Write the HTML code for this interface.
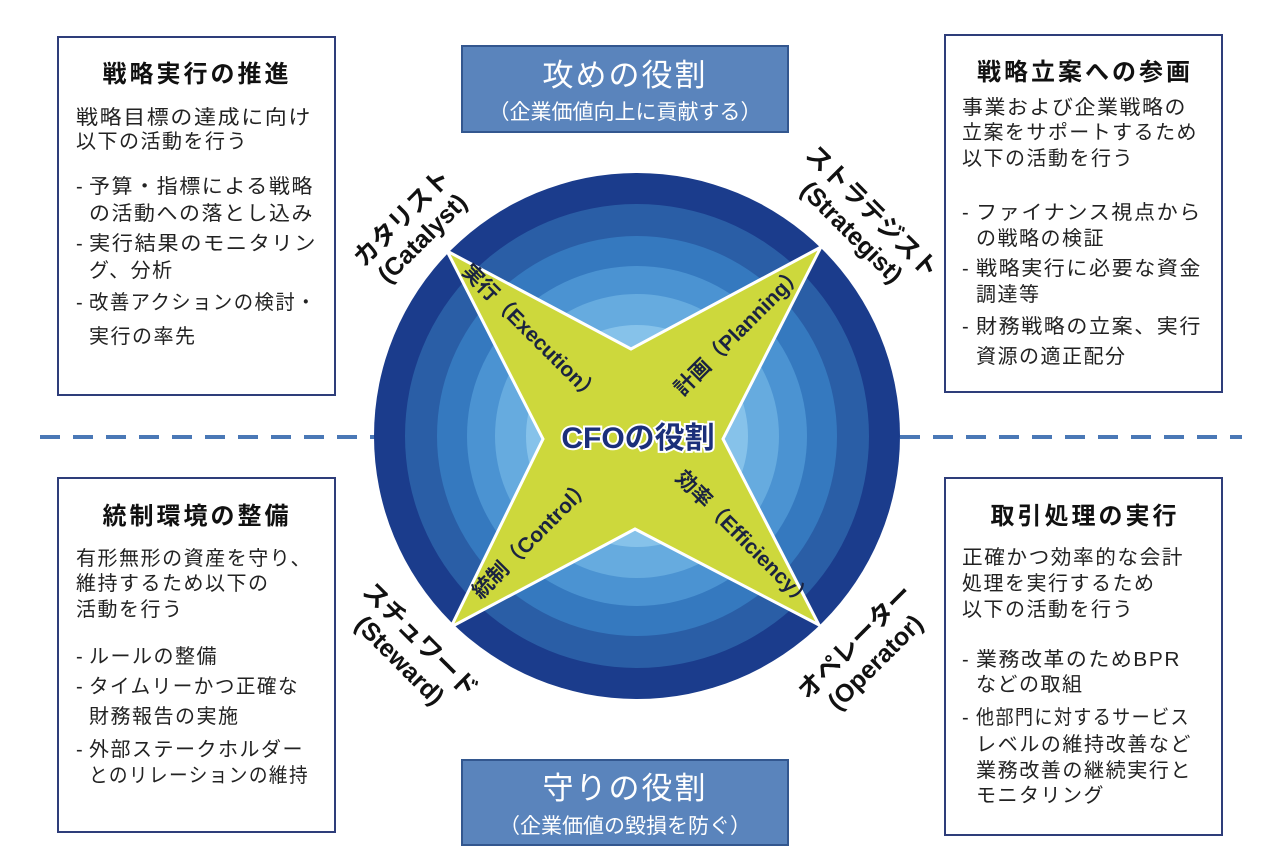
<!DOCTYPE html>
<html><head><meta charset="utf-8"><style>
html,body{margin:0;padding:0;background:#fff;}
svg{display:block;font-family:"Liberation Sans","Noto Sans CJK JP",sans-serif;}
.t{font-size:20px;fill:#222;letter-spacing:1.5px;}
.h{font-size:24px;font-weight:bold;fill:#111;letter-spacing:3px;}
.r{font-size:25px;font-weight:bold;fill:#111;}
.s{font-size:21px;font-weight:bold;fill:#1a2340;}
</style></head><body>
<svg width="1266" height="860" viewBox="0 0 1266 860" xmlns="http://www.w3.org/2000/svg">
<rect width="1266" height="860" fill="#fff"/>
<line x1="40" y1="437" x2="378" y2="437" stroke="#4a78b6" stroke-width="4" stroke-dasharray="20,13"/>
<line x1="900" y1="437" x2="1242" y2="437" stroke="#4a78b6" stroke-width="4" stroke-dasharray="20,13"/>
<circle cx="637" cy="436" r="263" fill="#1b3c8c"/>
<circle cx="637" cy="436" r="232" fill="#2a5ea6"/>
<circle cx="637" cy="436" r="200" fill="#3579bf"/>
<circle cx="637" cy="436" r="170" fill="#4b93d2"/>
<circle cx="637" cy="436" r="142" fill="#66abdf"/>
<circle cx="637" cy="436" r="111" fill="#86c2ea"/>
<circle cx="637" cy="436" r="80" fill="#a6d6f1"/>
<polygon points="447,251 631,349 821,247 723,439 819,625 635,529 451,627 543,439" fill="#cdd83c" stroke="#fff" stroke-width="3"/>
<text class="s" transform="translate(530,334) rotate(45)" text-anchor="middle" dominant-baseline="middle">実行（Execution）</text>
<text class="s" transform="translate(740,332) rotate(-45)" text-anchor="middle" dominant-baseline="middle">計画（Planning）</text>
<text class="s" transform="translate(533,540) rotate(-45)" text-anchor="middle" dominant-baseline="middle">統制（Control）</text>
<text class="s" transform="translate(743,540) rotate(45)" text-anchor="middle" dominant-baseline="middle">効率（Efficiency）</text>
<text x="638" y="448" text-anchor="middle" font-size="30" font-weight="bold" fill="#1b2f7a" stroke="#fff" stroke-width="4" paint-order="stroke">CFOの役割</text>
<g transform="translate(412,228) rotate(-45)" text-anchor="middle">
<text class="r" x="0" y="-6">カタリスト</text><text class="r" x="0" y="23">(Catalyst)</text></g>
<g transform="translate(862,222) rotate(45)" text-anchor="middle">
<text class="r" x="0" y="-6">ストラテジスト</text><text class="r" x="0" y="23">(Strategist)</text></g>
<g transform="translate(410,650) rotate(45)" text-anchor="middle">
<text class="r" x="0" y="-6">スチュワード</text><text class="r" x="0" y="23">(Steward)</text></g>
<g transform="translate(865,652) rotate(-45)" text-anchor="middle">
<text class="r" x="0" y="-6">オペレーター</text><text class="r" x="0" y="23">(Operator)</text></g>
<rect x="462" y="46" width="326" height="86" fill="#5a84bc" stroke="#33578f" stroke-width="2"/>
<text x="625" y="86" text-anchor="middle" font-size="31" fill="#fff" letter-spacing="2">攻めの役割</text>
<text x="625" y="119" text-anchor="middle" font-size="21" fill="#fff">（企業価値向上に貢献する）</text>
<rect x="462" y="760" width="326" height="85" fill="#5a84bc" stroke="#33578f" stroke-width="2"/>
<text x="625" y="799" text-anchor="middle" font-size="31" fill="#fff" letter-spacing="2">守りの役割</text>
<text x="625" y="833" text-anchor="middle" font-size="21" fill="#fff">（企業価値の毀損を防ぐ）</text>
<g fill="#fff" stroke="#2e3d7a" stroke-width="2">
<rect x="58" y="37" width="277" height="358"/>
<rect x="945" y="35" width="277" height="357"/>
<rect x="58" y="478" width="277" height="354"/>
<rect x="945" y="478" width="277" height="357"/>
</g>
<text class="h" x="197" y="82" text-anchor="middle">戦略実行の推進</text>
<g class="t">
<text x="76" y="124" textLength="236" lengthAdjust="spacingAndGlyphs">戦略目標の達成に向け</text>
<text x="76" y="148">以下の活動を行う</text>
<text x="76" y="193">-</text><text x="89" y="193" textLength="225" lengthAdjust="spacingAndGlyphs">予算・指標による戦略</text>
<text x="89" y="220" textLength="225" lengthAdjust="spacingAndGlyphs">の活動への落とし込み</text>
<text x="76" y="250">-</text><text x="89" y="250" textLength="228" lengthAdjust="spacingAndGlyphs">実行結果のモニタリン</text>
<text x="89" y="277">グ、分析</text>
<text x="76" y="309">-</text><text x="89" y="309" textLength="228" lengthAdjust="spacingAndGlyphs">改善アクションの検討・</text>
<text x="89" y="343">実行の率先</text>
</g>
<text class="h" x="1085" y="80" text-anchor="middle">戦略立案への参画</text>
<g class="t">
<text x="962" y="114" textLength="225" lengthAdjust="spacingAndGlyphs">事業および企業戦略の</text>
<text x="962" y="139" textLength="236" lengthAdjust="spacingAndGlyphs">立案をサポートするため</text>
<text x="962" y="165">以下の活動を行う</text>
<text x="962" y="219">-</text><text x="976" y="219" textLength="226" lengthAdjust="spacingAndGlyphs">ファイナンス視点から</text>
<text x="976" y="245">の戦略の検証</text>
<text x="962" y="275">-</text><text x="976" y="275" textLength="226" lengthAdjust="spacingAndGlyphs">戦略実行に必要な資金</text>
<text x="976" y="301">調達等</text>
<text x="962" y="333">-</text><text x="976" y="333" textLength="226" lengthAdjust="spacingAndGlyphs">財務戦略の立案、実行</text>
<text x="976" y="363">資源の適正配分</text>
</g>
<text class="h" x="197" y="524" text-anchor="middle">統制環境の整備</text>
<g class="t">
<text x="76" y="565" textLength="236" lengthAdjust="spacingAndGlyphs">有形無形の資産を守り、</text>
<text x="76" y="590">維持するため以下の</text>
<text x="76" y="616">活動を行う</text>
<text x="76" y="663">-</text><text x="89" y="663">ルールの整備</text>
<text x="76" y="693">-</text><text x="89" y="693" textLength="210" lengthAdjust="spacingAndGlyphs">タイムリーかつ正確な</text>
<text x="89" y="723">財務報告の実施</text>
<text x="76" y="756">-</text><text x="89" y="756" textLength="215" lengthAdjust="spacingAndGlyphs">外部ステークホルダー</text>
<text x="89" y="782" textLength="220" lengthAdjust="spacingAndGlyphs">とのリレーションの維持</text>
</g>
<text class="h" x="1085" y="524" text-anchor="middle">取引処理の実行</text>
<g class="t">
<text x="962" y="564" textLength="222" lengthAdjust="spacingAndGlyphs">正確かつ効率的な会計</text>
<text x="962" y="590">処理を実行するため</text>
<text x="962" y="616">以下の活動を行う</text>
<text x="962" y="666">-</text><text x="976" y="666" textLength="205" lengthAdjust="spacingAndGlyphs">業務改革のためBPR</text>
<text x="976" y="691">などの取組</text>
<text x="962" y="724">-</text><text x="976" y="724" textLength="214" lengthAdjust="spacingAndGlyphs">他部門に対するサービス</text>
<text x="976" y="751" textLength="216" lengthAdjust="spacingAndGlyphs">レベルの維持改善など</text>
<text x="976" y="777" textLength="216" lengthAdjust="spacingAndGlyphs">業務改善の継続実行と</text>
<text x="976" y="802">モニタリング</text>
</g>
</svg>
</body></html>
